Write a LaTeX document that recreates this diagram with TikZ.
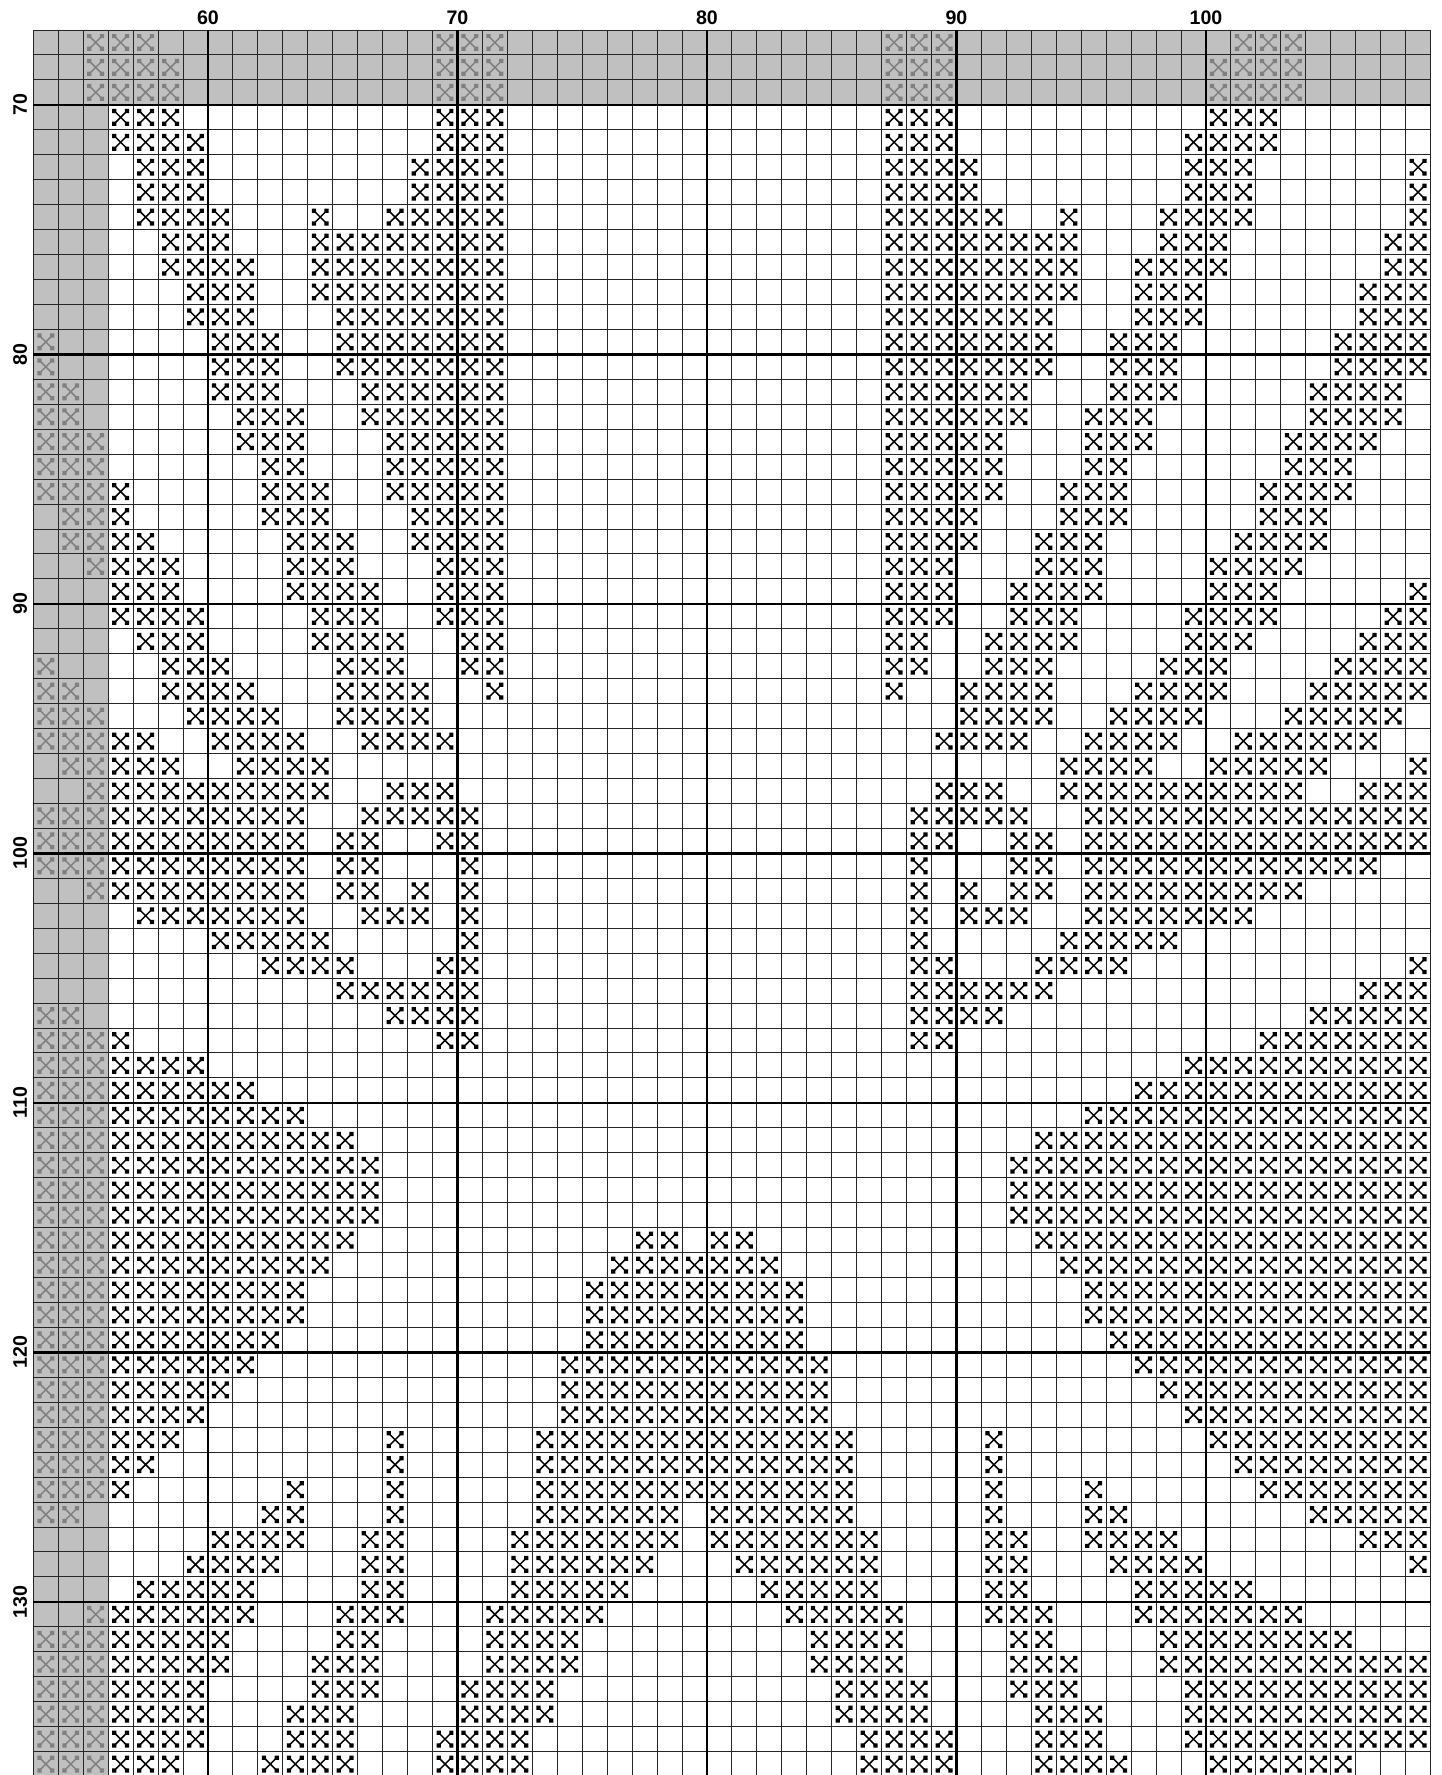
\documentclass[tikz,border=0pt]{standalone}
\usepackage{fontspec}
\setmainfont{Liberation Sans}
\definecolor{overlap}{HTML}{C0C0C0}

\begin{document}
\begin{tikzpicture}[x=12.475pt, y=-12.475pt,
  xst/.pic={
    \draw[line width=0.75pt] (0.22,0.22) -- (0.78,0.78) (0.22,0.78) -- (0.78,0.22);
    \fill (0.16,0.16) rectangle (0.33,0.33) (0.67,0.16) rectangle (0.84,0.33)
          (0.16,0.67) rectangle (0.33,0.84) (0.67,0.67) rectangle (0.84,0.84);
  },
  gridthin/.style={draw=black!85, line width=0.5pt},
  gridthick/.style={draw=black, line width=1.2pt},
  numlab/.style={font=\fontsize{9.8}{10}\selectfont\bfseries, inner sep=0pt}]

\useasboundingbox (51.665,65.798) rectangle (109.46,136.94);
\clip (51.665,65.798) rectangle (109.46,136.94);
\fill[white] (51.665,65.798) rectangle (109.46,136.94);

% part of the previous page
\fill[overlap] (53,67) rectangle (109,70);
\fill[overlap] (53,70) rectangle (56,137);

% grey stitches (overlap)
\foreach \r/\runs in {67/{55/57,69/71,87/89,101/103}, 68/{55/58,69/71,87/89,100/103},
  69/{55/58,69/71,87/89,100/103}, 79/{53/53}, 80/{53/53}, 81/{53/54}, 82/{53/54},
  83/{53/55}, 84/{53/55}, 85/{53/55}, 86/{54/55}, 87/{54/55}, 88/{55/55},
  92/{53/53}, 93/{53/54}, 94/{53/55}, 95/{53/55}, 96/{54/55}, 97/{55/55},
  98/{53/55}, 99/{53/55}, 100/{53/55}, 101/{55/55}, 106/{53/54}, 107/{53/55},
  108/{53/55}, 109/{53/55}, 110/{53/55}, 111/{53/55}, 112/{53/55}, 113/{53/55},
  114/{53/55}, 115/{53/55}, 116/{53/55}, 117/{53/55}, 118/{53/55}, 119/{53/55},
  120/{53/55}, 121/{53/55}, 122/{53/55}, 123/{53/55}, 124/{53/55}, 125/{53/55},
  126/{53/54}, 130/{55/55}, 131/{53/55}, 132/{53/55}, 133/{53/55}, 134/{53/55},
  135/{53/55}, 136/{53/55}}
  \foreach \a/\b in \runs
    \foreach \c in {\a,...,\b}
      \pic[black!50] at (\c,\r) {xst};

% stitches
\foreach \r/\runs in {
  70/{56/58,69/71,87/89,100/102},
  71/{56/59,69/71,87/89,99/102},
  72/{57/59,68/71,87/90,99/101,108/108},
  73/{57/59,68/71,87/90,99/101,108/108},
  74/{57/60,64/64,67/71,87/91,94/94,98/101,108/108},
  75/{58/60,64/71,87/94,98/100,107/108},
  76/{58/61,64/71,87/94,97/100,107/108},
  77/{59/61,64/71,87/94,97/99,106/108},
  78/{59/61,65/71,87/93,97/99,106/108},
  79/{60/62,65/71,87/93,96/98,105/108},
  80/{60/62,65/71,87/93,96/98,105/108},
  81/{60/62,66/71,87/92,96/98,104/107},
  82/{61/63,66/71,87/92,95/97,104/107},
  83/{61/63,67/71,87/91,95/97,103/106},
  84/{62/63,67/71,87/91,95/96,103/105},
  85/{56/56,62/64,67/71,87/91,94/96,102/105},
  86/{56/56,62/64,68/71,87/90,94/96,102/104},
  87/{56/57,63/65,68/71,87/90,93/95,101/104},
  88/{56/58,63/65,69/71,87/89,93/95,100/103},
  89/{56/58,63/66,69/71,87/89,92/95,100/102,108/108},
  90/{56/59,64/66,69/71,87/89,92/94,99/102,107/108},
  91/{57/59,64/67,70/71,87/88,91/94,99/101,106/108},
  92/{58/60,65/67,70/71,87/88,91/93,98/100,105/108},
  93/{58/61,65/68,71/71,87/87,90/93,97/100,104/108},
  94/{59/62,65/68,90/93,96/99,103/107},
  95/{56/57,60/63,66/69,89/92,95/98,101/106},
  96/{56/58,61/64,94/97,100/104,108/108},
  97/{56/64,67/69,89/91,94/103,106/108},
  98/{56/63,66/70,88/92,95/108},
  99/{56/63,65/66,69/70,88/89,92/93,95/108},
  100/{56/63,65/66,70/70,88/88,92/93,95/106},
  101/{56/63,65/66,68/68,70/70,88/88,90/90,92/93,95/103},
  102/{57/63,66/68,70/70,88/88,90/92,95/101},
  103/{60/64,70/70,88/88,94/98},
  104/{62/65,69/70,88/89,93/96,108/108},
  105/{65/70,88/93,106/108},
  106/{67/70,88/91,104/108},
  107/{56/56,69/70,88/89,102/108},
  108/{56/59,99/108},
  109/{56/61,97/108},
  110/{56/63,95/108},
  111/{56/65,93/108},
  112/{56/66,92/108},
  113/{56/66,92/108},
  114/{56/66,92/108},
  115/{56/65,77/78,80/81,93/108},
  116/{56/64,76/82,94/108},
  117/{56/63,75/83,95/108},
  118/{56/63,75/83,95/108},
  119/{56/62,75/83,96/108},
  120/{56/61,74/84,97/108},
  121/{56/60,74/84,98/108},
  122/{56/59,74/84,99/108},
  123/{56/58,67/67,73/85,91/91,100/108},
  124/{56/57,67/67,73/85,91/91,101/108},
  125/{56/56,63/63,67/67,73/85,91/91,95/95,102/108},
  126/{62/63,67/67,73/78,80/85,91/91,95/96,104/108},
  127/{60/63,66/67,72/78,80/86,91/92,95/98,106/108},
  128/{59/62,66/67,72/77,81/86,91/92,96/99,108/108},
  129/{57/61,66/67,72/76,82/86,91/92,97/101},
  130/{56/61,65/67,71/75,83/87,91/93,97/103},
  131/{56/60,65/66,71/74,84/87,92/93,98/105},
  132/{56/60,64/66,71/74,84/87,92/94,98/108},
  133/{56/59,64/66,70/73,85/88,92/94,99/108},
  134/{56/59,63/65,70/73,85/88,93/95,99/108},
  135/{56/59,63/65,69/72,86/89,93/95,99/108},
  136/{56/58,62/65,69/72,86/89,93/96,100/105}}
  \foreach \a/\b in \runs
    \foreach \c in {\a,...,\b}
      \pic[black] at (\c,\r) {xst};

% grid
\foreach \c in {53,...,109} \draw[gridthin] (\c,67) -- (\c,137);
\foreach \r in {67,...,137} \draw[gridthin] (53,\r) -- (109,\r);
\foreach \c in {60,70,...,100} \draw[gridthick] (\c,67) -- (\c,137);
\foreach \r in {70,80,...,130} \draw[gridthick] (53,\r) -- (109,\r);

% numbers
\foreach \n in {60,70,...,100} \node[numlab] (top\n) at (\n,66.52) {\n};
\foreach \n in {70,80,...,130} \node[numlab, rotate=90] (side\n) at (52.47,\n) {\n};
\end{tikzpicture}
\end{document}
